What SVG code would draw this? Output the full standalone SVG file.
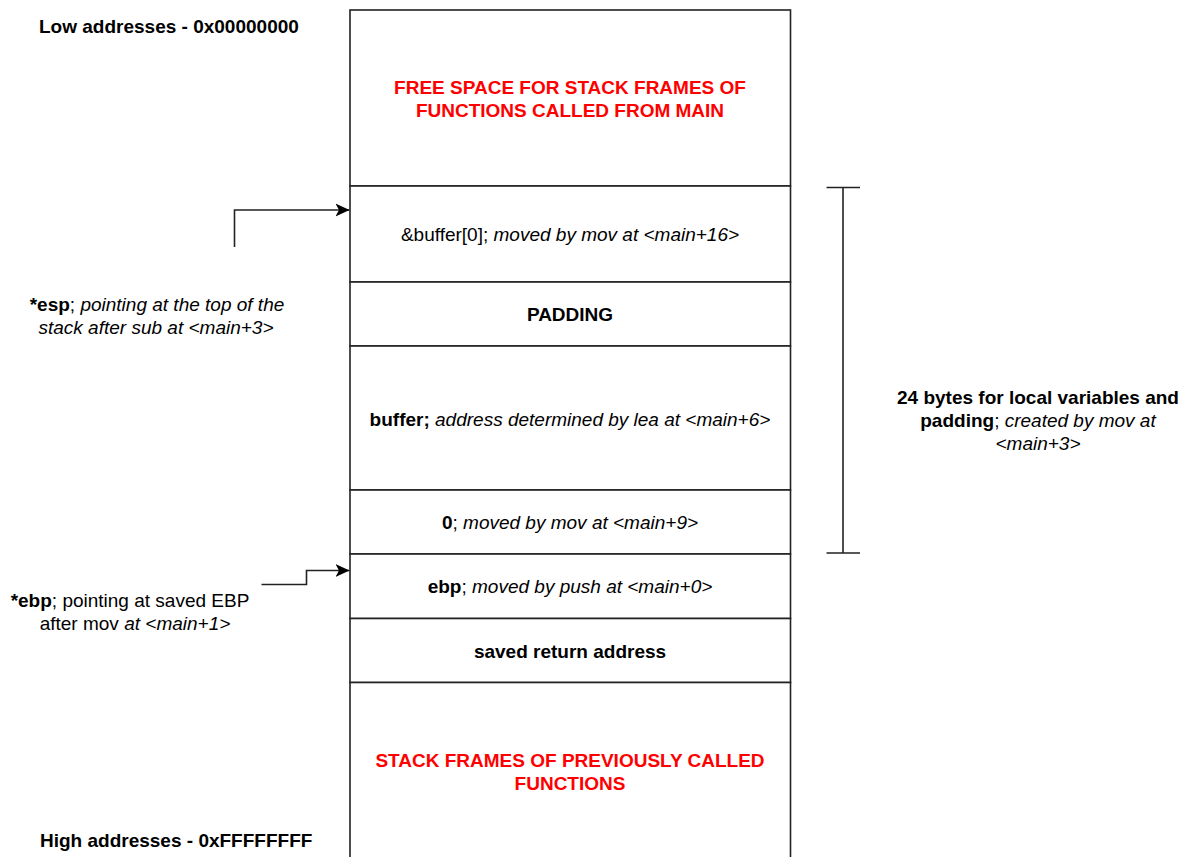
<svg xmlns="http://www.w3.org/2000/svg" width="1197" height="857" viewBox="0 0 1197 857">
  <style>
    text { font-family: "Liberation Sans", Arial, Helvetica, sans-serif; font-size: 19px; fill: #000; }
    .b { font-weight: bold; }
    .i { font-style: italic; }
    .red { fill: #FF0000; font-weight: bold; }
    .mid { text-anchor: middle; }
    .cell { fill: #FFFFFF; stroke: #222; stroke-width: 1.6; }
    .conn { fill: none; stroke: #222; stroke-width: 1.6; }
  </style>
  <defs>
    <marker id="arrow" markerUnits="userSpaceOnUse" markerWidth="15" markerHeight="14" refX="14" refY="7" orient="auto">
      <path d="M0,0.5 L14,7 L0,13.5 L3.5,7 Z" fill="#000"/>
    </marker>
  </defs>
  <rect width="1197" height="857" fill="#FFFFFF"/>

  <g id="label-low">
    <text class="b" x="39" y="33">Low addresses - 0x00000000</text>
  </g>
  <g id="label-high">
    <text class="b" x="40" y="847">High addresses - 0xFFFFFFFF</text>
  </g>

  <g id="free-space">
    <rect class="cell" x="350" y="10" width="440.5" height="176"/>
    <text class="red mid" x="570" y="94">FREE SPACE FOR STACK FRAMES OF</text>
    <text class="red mid" x="570" y="117">FUNCTIONS CALLED FROM MAIN</text>
  </g>
  <g id="buffer0">
    <rect class="cell" x="350" y="186" width="440.5" height="96"/>
    <text class="mid" x="570" y="241">&amp;buffer[0]; <tspan class="i">moved by mov at &lt;main+16&gt;</tspan></text>
  </g>
  <g id="padding">
    <rect class="cell" x="350" y="282" width="440.5" height="64"/>
    <text class="b mid" x="570" y="321">PADDING</text>
  </g>
  <g id="buffer">
    <rect class="cell" x="350" y="346" width="440.5" height="144"/>
    <text class="mid" x="570" y="425.5"><tspan class="b">buffer;</tspan> <tspan class="i">address determined by lea at &lt;main+6&gt;</tspan></text>
  </g>
  <g id="zero">
    <rect class="cell" x="350" y="490" width="440.5" height="64"/>
    <text class="mid" x="570" y="529"><tspan class="b">0</tspan>; <tspan class="i">moved by mov at &lt;main+9&gt;</tspan></text>
  </g>
  <g id="ebp">
    <rect class="cell" x="350" y="554" width="440.5" height="64.5"/>
    <text class="mid" x="570" y="593"><tspan class="b">ebp</tspan>; <tspan class="i">moved by push at &lt;main+0&gt;</tspan></text>
  </g>
  <g id="ret">
    <rect class="cell" x="350" y="618.5" width="440.5" height="64"/>
    <text class="b mid" x="570" y="657.5">saved return address</text>
  </g>
  <g id="prev-frames">
    <rect class="cell" x="350" y="682.5" width="440.5" height="180"/>
    <text class="red mid" x="570" y="767">STACK FRAMES OF PREVIOUSLY CALLED</text>
    <text class="red mid" x="570" y="789.5">FUNCTIONS</text>
  </g>

  <g id="esp-label">
    <text class="mid" x="157" y="311"><tspan class="b">*esp</tspan>; <tspan class="i">pointing at the top of the</tspan></text>
    <text class="mid i" x="156" y="334">stack after sub at &lt;main+3&gt;</text>
  </g>
  <g id="ebp-label">
    <text class="mid" x="130" y="607"><tspan class="b">*ebp</tspan>; pointing at saved EBP</text>
    <text class="mid" x="135" y="630">after mov <tspan class="i">at &lt;main+1&gt;</tspan></text>
  </g>

  <g id="bracket">
    <path class="conn" d="M843,187.5 V553 M826.5,187.5 H860 M826.5,553 H860"/>
  </g>
  <g id="bracket-label">
    <text class="b mid" x="1038" y="404">24 bytes for local variables and</text>
    <text class="mid" x="1038" y="427"><tspan class="b">padding</tspan>; <tspan class="i">created by mov at</tspan></text>
    <text class="mid i" x="1038" y="450">&lt;main+3&gt;</text>
  </g>

  <g id="connectors">
    <path class="conn" d="M234.5,247 V210 H349.5" marker-end="url(#arrow)"/>
    <path class="conn" d="M261.5,584.5 H306.5 V570.5 H349.5" marker-end="url(#arrow)"/>
  </g>
</svg>
